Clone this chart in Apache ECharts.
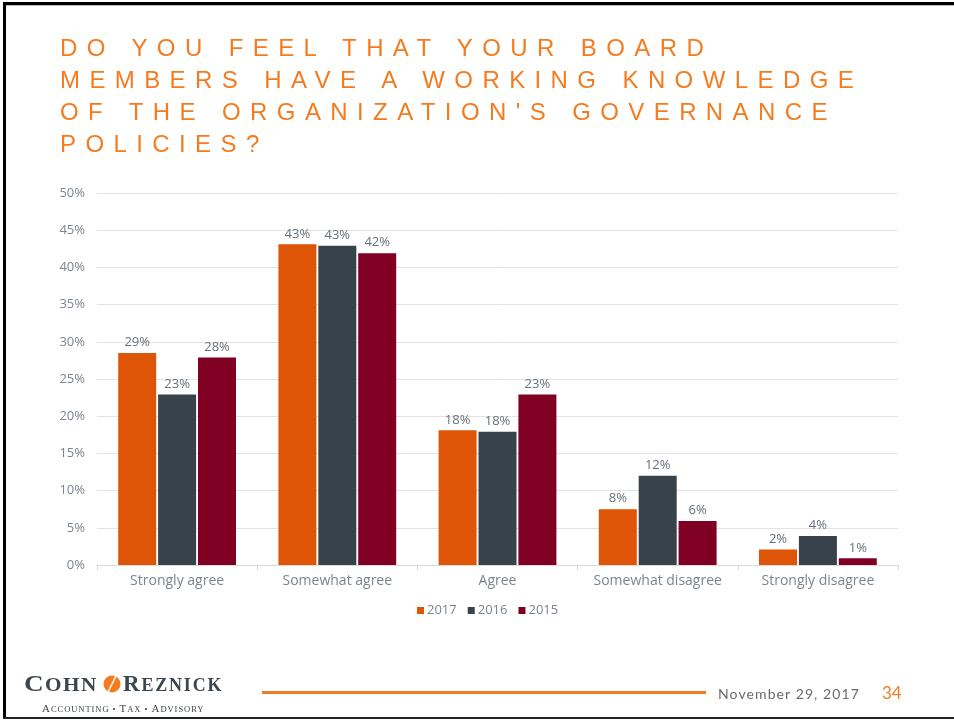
<!DOCTYPE html>
<html>
<head>
<meta charset="utf-8">
<script src="https://cdn.jsdelivr.net/npm/echarts@6/dist/echarts.min.js"></script>
<style>
  html, body { margin: 0; padding: 0; background: #fff; }
  #wrap { position: relative; width: 954px; height: 721px; overflow: hidden; }
  #chart { position: absolute; left: 0; top: 0; width: 954px; height: 721px; }
  #title { position: absolute; left: 60px; top: 32px; font-family: "Liberation Sans", Arial, sans-serif;
           font-size: 24px; line-height: 32px; color: #F47B20; letter-spacing: 9.4px; word-spacing: 1px; white-space: nowrap; }
  #date { position: absolute; left: 718px; top: 685px; font-family: "Lato", sans-serif; font-size: 14px;
          color: #6b6b6b; letter-spacing: 1.1px; white-space: nowrap; }
  .logo { position: absolute; font-family: "Liberation Serif", serif; color: #3b4650; white-space: nowrap; font-weight: bold; transform-origin: 0 0; }
  .logo .b { font-size: 23px; }
  .logo .s { font-size: 18px; }
  #logo1 { left: 24px; top: 671px; letter-spacing: 1.2px; transform: scaleX(1.18); }
  #logo2 { left: 123px; top: 671px; letter-spacing: 1.8px; }
  #tag { position: absolute; left: 42px; top: 698px; font-family: "Liberation Serif", serif; color: #3b4650; white-space: nowrap; letter-spacing: 0.95px; }
  #tag .b { font-size: 11px; }
  #tag .s { font-size: 8.5px; }
</style>
</head>
<body>
<div id="wrap">
  <div id="chart"></div>
  <div id="title">DO YOU FEEL THAT YOUR BOARD<br>MEMBERS HAVE A WORKING KNOWLEDGE<br>OF THE ORGANIZATION'S GOVERNANCE<br>POLICIES?</div>
  <div id="date">November 29, 2017</div>
  <div class="logo" id="logo1"><span class="b">C</span><span class="s">OHN</span></div>
  <div class="logo" id="logo2"><span class="b">R</span><span class="s">EZNICK</span></div>
  <div id="tag"><span class="b">A</span><span class="s">CCOUNTING • </span><span class="b">T</span><span class="s">AX • </span><span class="b">A</span><span class="s">DVISORY</span></div>
</div>
<script>
const categories = ['Strongly agree', 'Somewhat agree', 'Agree', 'Somewhat disagree', 'Strongly disagree'];
const seriesNames = ['2017', '2016', '2015'];
const values2017 = [28.5, 43.1, 18.1, 7.5, 2.1];
const values2016 = [22.9, 42.9, 17.9, 12.0, 3.9];
const values2015 = [27.9, 41.9, 22.9, 5.9, 0.9];
const yTicks = [0, 5, 10, 15, 20, 25, 30, 35, 40, 45, 50];

const colors = ['#DF5507', '#38424B', '#800024'];
const FONT = 'Open Sans';
const seriesData = [values2017, values2016, values2015];

const chart = echarts.init(document.getElementById('chart'), null, { renderer: 'canvas' });
chart.setOption({
  animation: false,
  backgroundColor: '#fff',
  color: colors,
  grid: { left: 97, right: 56, top: 193, bottom: 156, containLabel: false },
  legend: {
    data: seriesNames,
    left: 412, top: 599,
    icon: 'rect', itemWidth: 7, itemHeight: 7, itemGap: 11,
    textStyle: { fontFamily: FONT, fontSize: 13, color: '#7a8590', padding: [0, 0, 0, -2] }
  },
  xAxis: {
    type: 'category',
    data: categories,
    axisLine: { lineStyle: { color: '#d9d9d9', width: 1 } },
    axisTick: { show: true, length: 5, lineStyle: { color: '#d9d9d9' } },
    axisLabel: { interval: 0, fontFamily: FONT, fontSize: 14, color: '#7a8590', margin: 9 }
  },
  yAxis: {
    type: 'value',
    min: yTicks[0], max: yTicks[yTicks.length - 1], interval: 5,
    axisLine: { show: false },
    axisTick: { show: false },
    splitLine: { lineStyle: { color: '#e3e3e3', width: 1 } },
    axisLabel: { fontFamily: FONT, fontSize: 13, color: '#7a8590', margin: 12, formatter: '{value}%' }
  },
  series: seriesNames.map((name, i) => ({
    name: name,
    type: 'bar',
    data: seriesData[i],
    barWidth: 38,
    barGap: '5%',
    itemStyle: { color: colors[i] },
    label: {
      show: true, position: 'top', distance: 4,
      fontFamily: FONT, fontSize: 13, color: '#65707a',
      formatter: p => Math.round(p.value) + '%'
    }
  })),
  graphic: [
    { type: 'rect', shape: { x: 3, y: 2, width: 951, height: 3 }, style: { fill: '#000' } },
    { type: 'rect', shape: { x: 3, y: 5, width: 951, height: 1 }, style: { fill: '#bbb' } },
    { type: 'rect', shape: { x: 3, y: 2, width: 3, height: 717 }, style: { fill: '#000' } },
    { type: 'rect', shape: { x: 3, y: 717, width: 951, height: 2 }, style: { fill: '#222' } },
    { type: 'rect', shape: { x: 262, y: 691, width: 444, height: 3 }, style: { fill: '#F47B20' } },
    { type: 'text', x: 882, y: 702, style: { text: '34', fontFamily: 'Lato', fontSize: 17, fill: '#F47B20', textVerticalAlign: 'bottom' } },
    { type: 'circle', shape: { cx: 112, cy: 684, r: 8.5 }, style: { fill: '#F47B20' } },
    { type: 'line', shape: { x1: 108, y1: 692, x2: 116, y2: 676 }, style: { stroke: '#fff', lineWidth: 1.5 } }
  ]
});
</script>
</body>
</html>
